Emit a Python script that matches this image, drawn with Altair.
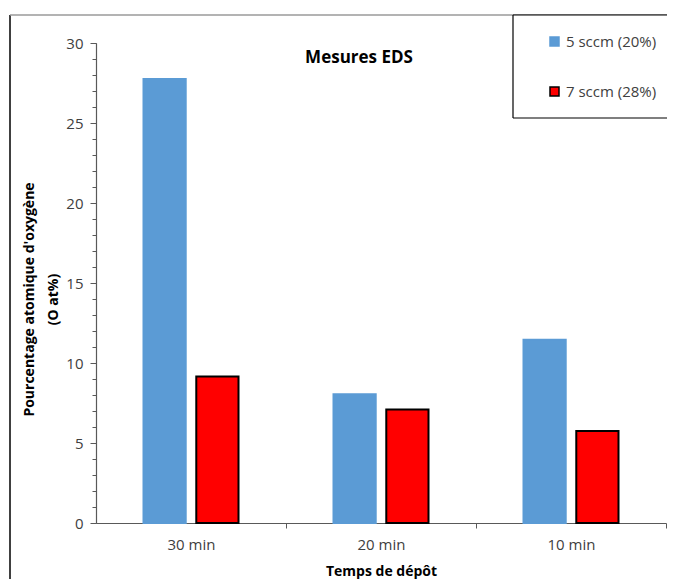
import altair as alt
import pandas as pd

# ---- data ----
categories = ["30 min", "20 min", "10 min"]
series = ["5 sccm (20%)", "7 sccm (28%)"]
values_5sccm = [27.75, 8.05, 11.45]
values_7sccm = [9.15, 7.1, 5.75]

chart_title = "Mesures EDS"
y_title = ["Pourcentage atomique d'oxygène", "(O at%)"]
x_title = "Temps de dépôt"
y_major = [0, 5, 10, 15, 20, 25, 30]
y_minor = list(range(0, 31))

colors = ["#5B9BD5", "#FF0000"]
strokes = ["#5B9BD5", "#000000"]

rows = []
for c, v in zip(categories, values_5sccm):
    rows.append({"temps": c, "serie": series[0], "val": v})
for c, v in zip(categories, values_7sccm):
    rows.append({"temps": c, "serie": series[1], "val": v})
df = pd.DataFrame(rows)

FONT = "Open Sans"
W, H = 570, 480
STEP = W / 3
AXC = "#595959"

x_enc = alt.X(
    "temps:N",
    sort=categories,
    scale=alt.Scale(paddingInner=0.5, paddingOuter=0.25),
    axis=alt.Axis(
        title=x_title,
        labelAngle=0,
        tickOffset=STEP / 2,
        labelOffset=-STEP / 2,
        tickSize=5,
        tickColor=AXC,
        domainColor=AXC,
        domainWidth=1.2,
        labelPadding=9,
        labelFont=FONT,
        labelFontSize=15,
        labelColor="#404040",
        titleFont=FONT,
        titleFontSize=14,
        titleFontWeight="bold",
        titleColor="#000000",
        titlePadding=12,
    ),
)

bars = alt.Chart(df).mark_bar(strokeWidth=2).encode(
    x=x_enc,
    xOffset=alt.XOffset(
        "serie:N", sort=series,
        scale=alt.Scale(paddingInner=0.2, paddingOuter=0),
    ),
    y=alt.Y(
        "val:Q",
        scale=alt.Scale(domain=[0, 30], nice=False),
        axis=alt.Axis(
            title=y_title,
            values=y_major,
            tickSize=6,
            tickColor=AXC,
            domainColor=AXC,
            domainWidth=1.2,
            grid=False,
            labelPadding=7,
            labelFont=FONT,
            labelFontSize=15,
            labelColor="#404040",
            titleFont=FONT,
            titleFontSize=14,
            titleFontWeight="bold",
            titleColor="#000000",
            titlePadding=5,
            titleLineHeight=24,
            titleY=256,
        ),
    ),
    color=alt.Color(
        "serie:N", sort=series,
        scale=alt.Scale(domain=series, range=colors),
        legend=alt.Legend(
            title=None,
            orient="none",
            legendX=417,
            legendY=-28,
            direction="vertical",
            padding=19,
            symbolOffset=15,
            symbolType="square",
            symbolSize=81,
            symbolStrokeWidth=1.5,
            rowPadding=34,
            labelFont=FONT,
            labelFontSize=15,
            labelColor="#404040",
            labelOffset=4,
            labelLimit=400,
        ),
    ),
    stroke=alt.Stroke(
        "serie:N", sort=series,
        scale=alt.Scale(domain=series, range=strokes),
        legend=None,
    ),
)

minor = alt.Chart(df).mark_point(opacity=0).encode(
    x=alt.X("temps:N", sort=categories),
    y=alt.Y(
        "val:Q",
        axis=alt.Axis(
            orient="left",
            title=None,
            values=y_minor,
            labels=False,
            domain=False,
            grid=False,
            tickSize=4,
            tickColor=AXC,
        ),
    ),
)

title_df = pd.DataFrame({"t": [chart_title]})
title = alt.Chart(title_df).mark_text(
    font=FONT, fontSize=17, fontWeight="bold", color="#000000", align="center", baseline="middle"
).encode(text="t:N", x=alt.value(263), y=alt.value(15))

# decorative chart frame and legend box (open on the right, running off the page)
frame_left = alt.Chart(title_df).mark_rule(color="#404040", strokeWidth=2).encode(
    x=alt.value(-86), y=alt.value(-28), y2=alt.value(700)
)
frame_top = alt.Chart(title_df).mark_rule(color="#9a9a9a", strokeWidth=1.5).encode(
    x=alt.value(-86), x2=alt.value(800), y=alt.value(-28)
)
legend_fill = alt.Chart(title_df).mark_rect(fill="#ffffff", strokeWidth=0).encode(
    x=alt.value(417), x2=alt.value(760), y=alt.value(-28), y2=alt.value(75)
)
legend_top = alt.Chart(title_df).mark_rule(color="#000000", strokeWidth=1.2).encode(
    x=alt.value(417), x2=alt.value(760), y=alt.value(-28)
)
legend_bottom = alt.Chart(title_df).mark_rule(color="#000000", strokeWidth=1.2).encode(
    x=alt.value(417), x2=alt.value(760), y=alt.value(75)
)
legend_left = alt.Chart(title_df).mark_rule(color="#000000", strokeWidth=1.2).encode(
    x=alt.value(417), y=alt.value(-28), y2=alt.value(75)
)

chart = alt.layer(
    frame_left, frame_top, bars, minor, title,
    legend_fill, legend_top, legend_bottom, legend_left,
).resolve_axis(
    y="independent"
).properties(
    width=W,
    height=H,
    autosize="none",
    padding={"left": 88, "top": 35, "right": 1, "bottom": 58},
    background="#ffffff",
).configure_view(stroke=None)

chart.save("out.html", embed_options={"renderer": "svg", "actions": False})
